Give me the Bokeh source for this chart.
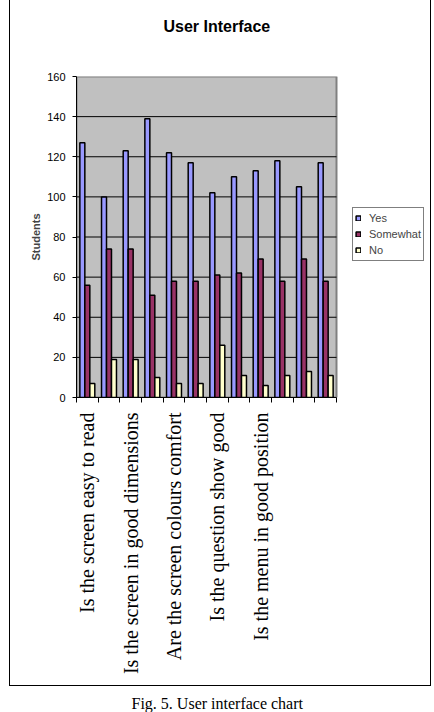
import numpy as np
from bokeh.plotting import figure
from bokeh.models import (ColumnDataSource, Range1d, FixedTicker, Legend, LegendItem, Title,
                          BoxAnnotation)
from bokeh.transform import dodge
from bokeh.embed import file_html
from bokeh.resources import INLINE

# Survey answers for the twelve interface questions
n_questions = 12
yes = [127, 100, 123, 139, 122, 117, 102, 110, 113, 118, 105, 117]
somewhat = [56, 74, 74, 51, 58, 58, 61, 62, 69, 58, 69, 58]
no = [7, 19, 19, 10, 7, 7, 26, 11, 6, 11, 13, 11]

series_names = ["Yes", "Somewhat", "No"]
series_colors = ["#9999FF", "#993366", "#FFFFCC"]

# Only every other question gets a printed label on the axis
question_labels = [
    "Is the screen easy to read",
    "Is the screen in good dimensions",
    "Are the screen colours comfort",
    "Is the question show good",
    "Is the menu in good position",
]
labelled_positions = [0, 2, 4, 6, 8]

y_ticks = [0, 20, 40, 60, 80, 100, 120, 140, 160]
y_max = 160

SANS = "Liberation Sans"
SERIF = "Liberation Serif"
W, H = 434, 712

# Page layout in pixels: plot area 76..336 wide, legend sits to its right inside the frame
AREA_LEFT, AREA_RIGHT, FRAME_RIGHT = 76, 336, 430
x_end = n_questions * (FRAME_RIGHT - AREA_LEFT) / (AREA_RIGHT - AREA_LEFT)

src = ColumnDataSource(dict(
    x=np.arange(n_questions) + 0.5,
    yes=yes, somewhat=somewhat, no=no,
))
grid_src = ColumnDataSource(dict(y=y_ticks[1:-1]))

p = figure(width=W, height=H,
           x_range=Range1d(0, x_end), y_range=Range1d(0, y_max),
           output_backend="svg", toolbar_location=None,
           min_border_left=AREA_LEFT, min_border_right=W - FRAME_RIGHT,
           min_border_top=76, min_border_bottom=315)

# Thin frame around the chart (left, right, bottom), painted behind the transparent canvas
frame_layers = [
    "linear-gradient(#000,#000) 9px 0 / 1px 686px no-repeat",
    "linear-gradient(#000,#000) 430px 0 / 1px 686px no-repeat",
    "linear-gradient(#000,#000) 9px 685px / 422px 1px no-repeat",
]
p.styles = {"background": ", ".join(frame_layers) + ", #ffffff"}
p.border_fill_alpha = 0
p.background_fill_alpha = 0
p.outline_line_color = None

# Grey plot area with its grey edge
p.add_layout(BoxAnnotation(left=0, right=n_questions, bottom=0, top=y_max, level="underlay",
                           fill_color="#C0C0C0", fill_alpha=1,
                           line_color="#808080", line_width=2, line_alpha=1))

# Horizontal gridlines across the plot area
p.xgrid.visible = False
p.ygrid.visible = False
p.segment(x0=0, x1=n_questions, y0="y", y1="y", source=grid_src,
          line_color="black", line_width=1)

bar_w = 0.23
renderers = []
for key, color, off in zip(["yes", "somewhat", "no"], series_colors, [-bar_w, 0, bar_w]):
    r = p.vbar(x=dodge("x", off), top=key, width=bar_w, bottom=0, source=src,
               fill_color=color, line_color="black", line_width=1.5)
    renderers.append(r)

# Y axis
p.yaxis.ticker = FixedTicker(ticks=y_ticks)
p.yaxis.major_tick_in = 0
p.yaxis.major_tick_out = 4
p.yaxis.minor_tick_line_color = None
p.yaxis.major_label_text_font = SANS
p.yaxis.major_label_text_font_size = "11px"
p.yaxis.major_label_standoff = 7
p.yaxis.axis_label = "Students"
p.yaxis.axis_label_text_font = SANS
p.yaxis.axis_label_text_font_size = "11px"
p.yaxis.axis_label_text_font_style = "bold"
p.yaxis.axis_label_standoff = 2

# X axis: tick marks between questions, labels under question centres
p.xaxis.bounds = (0, n_questions)
p.xaxis.ticker = FixedTicker(ticks=[i + 0.5 for i in labelled_positions],
                             minor_ticks=list(range(n_questions + 1)))
p.xaxis.major_tick_line_color = None
p.xaxis.major_tick_in = 0
p.xaxis.major_tick_out = 5
p.xaxis.minor_tick_in = 0
p.xaxis.minor_tick_out = 5
p.xaxis.minor_tick_line_color = "black"
p.xaxis.major_label_overrides = {i + 0.5: lab for i, lab in zip(labelled_positions, question_labels)}
p.xaxis.major_label_orientation = np.pi / 2
p.xaxis.major_label_text_font = SERIF
p.xaxis.major_label_text_font_size = "20px"
p.xaxis.major_label_standoff = 10

p.axis.axis_line_color = "black"
p.axis.major_label_text_color = "black"

# Title above the chart (blank lines below it lift it away from the plot area)
p.title.text = "User Interface\n\n"
p.title.align = "left"
p.title.offset = 87
p.title.standoff = 16
p.title.text_line_height = 1.0
p.title.text_font = SANS
p.title.text_font_size = "16px"
p.title.text_font_style = "bold"
p.title.text_color = "black"

# Caption under the frame
caption = Title(text="\nFig. 5. User interface chart", align="left", offset=55, standoff=0,
                text_line_height=0.95,
                text_font=SERIF, text_font_size="16px", text_font_style="normal",
                text_color="black")
p.add_layout(caption, "below")

legend = Legend(items=[LegendItem(label=n, renderers=[r]) for n, r in zip(series_names, renderers)],
                location=(276, 136))
legend.border_line_color = "black"
legend.border_line_width = 1
legend.background_fill_color = "white"
legend.background_fill_alpha = 1
legend.label_text_font = SANS
legend.label_text_font_size = "11px"
legend.glyph_width = 6
legend.glyph_height = 6
legend.label_height = 16
legend.label_standoff = 8
legend.padding = 2
legend.spacing = 0
legend.margin = 0
p.add_layout(legend)

open("out.html", "w").write(file_html(p, INLINE))
